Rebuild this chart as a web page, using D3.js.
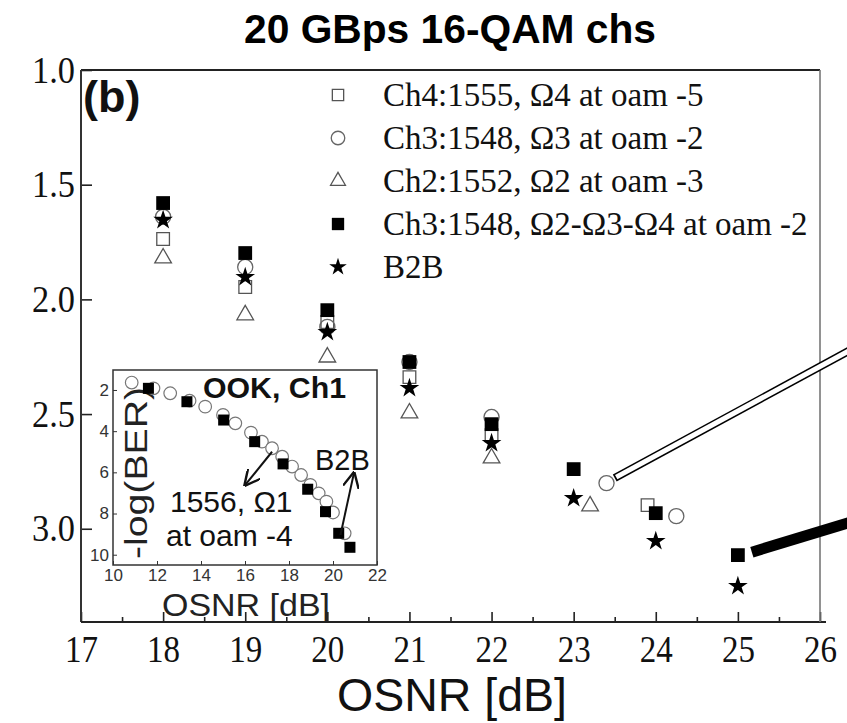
<!DOCTYPE html>
<html>
<head>
<meta charset="utf-8">
<script src="https://cdn.jsdelivr.net/npm/d3@7"></script>
<style>
  body { margin: 0; background: #fff; }
  svg { display: block; }
</style>
</head>
<body>
<div class="drawBoard"></div>
<script>
// data (y = -log(BER), larger values lower on the axis)
const xTicks = [17, 18, 19, 20, 21, 22, 23, 24, 25, 26];
const yTicks = [1.0, 1.5, 2.0, 2.5, 3.0];

const ch4X = [18, 19, 20, 21, 22, 23.9];
const ch4Y = [1.737, 1.946, 2.099, 2.339, 2.592, 2.897];
const ch3X = [18, 19, 20, 21, 22, 23.4, 24.25];
const ch3Y = [1.64, 1.859, 2.12, 2.273, 2.513, 2.801, 2.945];
const ch2X = [18, 19, 20, 21, 22, 23.2];
const ch2Y = [1.82, 2.068, 2.252, 2.496, 2.692, 2.901];
const ch3AllX = [18, 19, 20, 21, 22, 23, 24, 25];
const ch3AllY = [1.58, 1.798, 2.047, 2.273, 2.544, 2.74, 2.932, 3.115];
const b2bX = [18, 19, 20, 21, 22, 23, 24, 25];
const b2bY = [1.654, 1.903, 2.143, 2.387, 2.627, 2.867, 3.054, 3.25];

const legendLabels = [
  'Ch4:1555, \u03A94 at oam -5',
  'Ch3:1548, \u03A93 at oam -2',
  'Ch2:1552, \u03A92 at oam -3',
  'Ch3:1548, \u03A92-\u03A93-\u03A94 at oam -2',
  'B2B'
];

// inset: OOK, Ch1
const insetXTicks = [10, 12, 14, 16, 18, 20, 22];
const insetYTicks = [2, 4, 6, 8, 10];
const ookX = [10.85, 11.84, 12.6, 13.48, 14.19, 15.0, 15.56, 16.27, 16.77, 17.23, 17.69, 18.14, 18.55, 18.97, 19.35, 19.7, 20.0, 20.53];
const ookY = [1.64, 1.92, 2.16, 2.52, 2.81, 3.21, 3.62, 4.07, 4.51, 4.83, 5.24, 5.72, 6.13, 6.61, 7.02, 7.42, 7.95, 8.96];
const insetB2bX = [11.61, 13.36, 15.03, 16.44, 17.73, 18.85, 19.66, 20.26, 20.77];
const insetB2bY = [1.92, 2.57, 3.46, 4.51, 5.59, 6.82, 7.91, 8.96, 9.64];

const serif = 'Liberation Serif, Times New Roman, serif';
const sans = 'Liberation Sans, Arial, sans-serif';

const svg = d3.select('.drawBoard').append('svg')
  .attr('width', 847)
  .attr('height', 723);

svg.append('rect').attr('width', 847).attr('height', 723).attr('fill', '#fff');

// scales
const x = d3.scaleLinear().domain([17, 26]).range([81, 820]);
const y = d3.scaleLinear().domain([1.0, 3.4]).range([70, 620.5]);

// title
svg.append('text')
  .text('20 GBps 16-QAM chs')
  .attr('x', 450)
  .attr('y', 43)
  .attr('text-anchor', 'middle')
  .attr('font-family', sans)
  .attr('font-weight', 'bold')
  .attr('font-size', 40)
  .attr('textLength', 412)
  .attr('lengthAdjust', 'spacingAndGlyphs')
  .attr('fill', '#000');

// bottom axis: major + minor ticks pointing inward
const xMajor = svg.append('g')
  .attr('transform', 'translate(0,622)')
  .call(d3.axisBottom(x).tickValues(xTicks).tickSize(-10).tickPadding(14).tickFormat(d3.format('d')));
const xMinor = svg.append('g')
  .attr('transform', 'translate(0,622)')
  .call(d3.axisBottom(x).tickValues(d3.range(17.5, 26, 1)).tickSize(-5).tickFormat(''));

// left axis
const yAxis = svg.append('g')
  .attr('transform', 'translate(81,0)')
  .call(d3.axisLeft(y).tickValues(yTicks).tickSize(-11).tickPadding(6).tickFormat(d3.format('.1f')));

[xMajor, xMinor, yAxis].forEach(g => {
  g.select('.domain').remove();
  g.selectAll('line').attr('stroke', '#222').attr('stroke-width', 1.6);
  g.selectAll('text')
    .attr('font-family', serif)
    .attr('font-size', 38)
    .attr('lengthAdjust', 'spacingAndGlyphs')
    .attr('fill', '#111');
});
xMajor.selectAll('text').attr('textLength', 33).attr('dy', '0.68em');
yAxis.selectAll('text').attr('textLength', 43).attr('dy', '0.32em');

// frame
svg.append('line').attr('x1', 81).attr('x2', 820).attr('y1', 70).attr('y2', 70)
  .attr('stroke', '#222').attr('stroke-width', 2);
svg.append('line').attr('x1', 81).attr('x2', 81).attr('y1', 70).attr('y2', 622)
  .attr('stroke', '#333').attr('stroke-width', 2);
svg.append('line').attr('x1', 81).attr('x2', 826).attr('y1', 622).attr('y2', 622)
  .attr('stroke', '#222').attr('stroke-width', 2);
svg.append('line').attr('x1', 820).attr('x2', 820).attr('y1', 70).attr('y2', 622)
  .attr('stroke', '#777').attr('stroke-width', 1.6);

// x title
svg.append('text')
  .text('OSNR [dB]')
  .attr('x', 452)
  .attr('y', 711)
  .attr('text-anchor', 'middle')
  .attr('font-family', sans)
  .attr('font-size', 47)
  .attr('textLength', 230)
  .attr('lengthAdjust', 'spacingAndGlyphs')
  .attr('fill', '#111');

svg.append('text')
  .text('(b)')
  .attr('x', 83)
  .attr('y', 112)
  .attr('font-family', sans)
  .attr('font-weight', 'bold')
  .attr('font-size', 45)
  .attr('fill', '#111');

// marker styles
const styles = [
  { type: d3.symbolSquare, size: 160, fill: '#fff', stroke: '#555' },
  { type: d3.symbolCircle, size: 180, fill: 'none', stroke: '#666' },
  { type: d3.symbolTriangle, size: 120, fill: 'none', stroke: '#555' },
  { type: d3.symbolSquare, size: 190, fill: '#000', stroke: 'none' },
  { type: d3.symbolStar, size: 120, fill: '#000', stroke: 'none' }
];

const series = [
  d3.zip(ch4X, ch4Y),
  d3.zip(ch3X, ch3Y),
  d3.zip(ch2X, ch2Y),
  d3.zip(ch3AllX, ch3AllY),
  d3.zip(b2bX, b2bY)
];

// annotation bars pointing out of the panel (in data units)
const hollowBar = [[23.5, 2.779], [26.4, 2.215]];
const solidBar = [[25.17, 3.102], [26.4, 2.968]];

svg.append('line')
  .attr('x1', x(hollowBar[0][0])).attr('y1', y(hollowBar[0][1]))
  .attr('x2', x(hollowBar[1][0])).attr('y2', y(hollowBar[1][1]))
  .attr('stroke', '#000').attr('stroke-width', 8);
svg.append('line')
  .attr('x1', x(hollowBar[0][0]) + 1.5).attr('y1', y(hollowBar[0][1]) - 0.9)
  .attr('x2', x(hollowBar[1][0])).attr('y2', y(hollowBar[1][1]))
  .attr('stroke', '#fff').attr('stroke-width', 5);
svg.append('line')
  .attr('x1', x(solidBar[0][0])).attr('y1', y(solidBar[0][1]))
  .attr('x2', x(solidBar[1][0])).attr('y2', y(solidBar[1][1]))
  .attr('stroke', '#000').attr('stroke-width', 11);

// data points
series.forEach((pts, i) => {
  const st = styles[i];
  svg.append('g').selectAll('path')
    .data(pts)
    .join('path')
    .attr('d', d3.symbol().type(st.type).size(st.size))
    .attr('transform', d => 'translate(' + x(d[0]) + ',' + y(d[1]) + ')')
    .attr('fill', st.fill)
    .attr('stroke', st.stroke)
    .attr('stroke-width', 1.3);
});

// legend
const legend = svg.append('g');
legendLabels.forEach((label, i) => {
  const st = styles[i];
  const ly = 95 + i * 43;
  legend.append('path')
    .attr('d', d3.symbol().type(st.type).size(st.size * 0.8))
    .attr('transform', 'translate(338,' + ly + ')')
    .attr('fill', st.fill === 'none' ? '#fff' : st.fill)
    .attr('stroke', st.stroke)
    .attr('stroke-width', 1.3);
  legend.append('text')
    .text(label)
    .attr('x', 383)
    .attr('y', ly + 11)
    .attr('font-family', serif)
    .attr('font-size', 33)
    .attr('fill', '#111');
});

// inset
const ix = d3.scaleLinear().domain([10, 22]).range([113, 377]);
const iy = d3.scaleLinear().domain([1.03, 10.5]).range([370, 565]);
const inset = svg.append('g');

inset.append('rect')
  .attr('x', 113).attr('y', 370)
  .attr('width', 264).attr('height', 195)
  .attr('fill', '#fff')
  .attr('stroke', '#333')
  .attr('stroke-width', 1.5);

const ixAxis = inset.append('g')
  .attr('transform', 'translate(0,565)')
  .call(d3.axisBottom(ix).tickValues(insetXTicks).tickSize(-4).tickPadding(4));
const iyAxis = inset.append('g')
  .attr('transform', 'translate(113,0)')
  .call(d3.axisLeft(iy).tickValues(insetYTicks).tickSize(-4).tickPadding(4));
[ixAxis, iyAxis].forEach(g => {
  g.select('.domain').remove();
  g.selectAll('line').attr('stroke', '#333');
  g.selectAll('text').attr('font-family', sans).attr('font-size', 17).attr('fill', '#333');
});

inset.append('text')
  .text('OOK, Ch1')
  .attr('x', 203).attr('y', 398)
  .attr('font-family', sans).attr('font-weight', 'bold')
  .attr('font-size', 29)
  .attr('textLength', 143)
  .attr('lengthAdjust', 'spacingAndGlyphs')
  .attr('fill', '#111');

inset.append('text')
  .text('-log(BER)')
  .attr('transform', 'translate(147,473) rotate(-90)')
  .attr('text-anchor', 'middle')
  .attr('font-family', sans)
  .attr('font-size', 31)
  .attr('textLength', 172)
  .attr('lengthAdjust', 'spacingAndGlyphs')
  .attr('fill', '#222');

inset.append('text')
  .text('OSNR [dB]')
  .attr('x', 246).attr('y', 616)
  .attr('text-anchor', 'middle')
  .attr('font-family', sans).attr('font-size', 32)
  .attr('textLength', 168)
  .attr('lengthAdjust', 'spacingAndGlyphs')
  .attr('fill', '#222');

inset.selectAll('circle.ook')
  .data(d3.zip(ookX, ookY))
  .join('circle')
  .attr('cx', d => ix(d[0]))
  .attr('cy', d => iy(d[1]))
  .attr('r', 6.3)
  .attr('fill', '#fff')
  .attr('stroke', '#777')
  .attr('stroke-width', 1.2);

inset.selectAll('rect.b2b')
  .data(d3.zip(insetB2bX, insetB2bY))
  .join('rect')
  .attr('x', d => ix(d[0]) - 5.5)
  .attr('y', d => iy(d[1]) - 5.5)
  .attr('width', 11)
  .attr('height', 11)
  .attr('fill', '#000');

// inset annotations
const defs = svg.append('defs');
defs.append('marker')
  .attr('id', 'arrow')
  .attr('viewBox', '0 0 10 10')
  .attr('refX', 9).attr('refY', 5)
  .attr('markerWidth', 8).attr('markerHeight', 8)
  .attr('orient', 'auto')
  .append('path')
  .attr('d', 'M0,0 L10,5 L0,10')
  .attr('fill', 'none')
  .attr('stroke', '#111')
  .attr('stroke-width', 1.5);

const arrowOok = [[17.23, 5.0], [16.01, 6.61]];
const arrowB2b = [[20.34, 9.04], [20.95, 6.04]];
[arrowOok, arrowB2b].forEach(a => {
  inset.append('line')
    .attr('x1', ix(a[0][0])).attr('y1', iy(a[0][1]))
    .attr('x2', ix(a[1][0])).attr('y2', iy(a[1][1]))
    .attr('stroke', '#111')
    .attr('stroke-width', 2)
    .attr('marker-end', 'url(#arrow)');
});

inset.append('text')
  .text('B2B')
  .attr('x', 315).attr('y', 470)
  .attr('font-family', sans).attr('font-size', 29).attr('fill', '#111');
inset.append('text')
  .text('1556, \u03A91')
  .attr('x', 170).attr('y', 512)
  .attr('font-family', sans).attr('font-size', 30).attr('fill', '#111');
inset.append('text')
  .text('at oam -4')
  .attr('x', 166).attr('y', 546)
  .attr('font-family', sans).attr('font-size', 30).attr('fill', '#111');
</script>
</body>
</html>
